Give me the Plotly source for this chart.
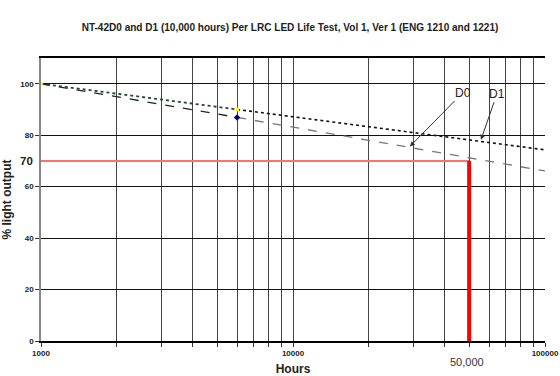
import numpy as np
import plotly.graph_objects as go

# ---- data ----
hours_measured = [1000, 6000]
d1_measured = [100, 90.0]
d0_measured = [100, 86.9]
hours_extrap = [6000, 100000]
d1_extrap = [90.0, 74.3]
d0_extrap = [86.9, 66.1]
l70_level = 70
l70_hours = 50000

grid_x = [1000, 2000, 3000, 4000, 5000, 6000, 7000, 8000, 9000,
          10000, 20000, 30000, 40000, 50000, 60000, 70000, 80000, 90000, 100000]
grid_x_text = ["1000"] + [""] * 8 + ["10000"] + [""] * 8 + ["100000"]
y_ticks = [0, 20, 40, 60, 80, 100]

FONT = "Liberation Sans, Arial, sans-serif"

fig = go.Figure()

# L70 lines
fig.add_trace(go.Scatter(x=[1000, l70_hours], y=[l70_level, l70_level], mode="lines",
                         line=dict(color="#ff7070", width=2), hoverinfo="skip"))
fig.add_trace(go.Scatter(x=[l70_hours, l70_hours], y=[0, l70_level], mode="lines",
                         line=dict(color="#ff0000", width=4), hoverinfo="skip"))

# extrapolations
fig.add_trace(go.Scatter(x=hours_extrap, y=d0_extrap, mode="lines",
                         line=dict(color="#777777", width=1.3, dash="dash")))
fig.add_trace(go.Scatter(x=hours_extrap, y=d1_extrap, mode="lines",
                         line=dict(color="#111111", width=1.6, dash="dot")))
# measured
fig.add_trace(go.Scatter(x=hours_measured, y=d0_measured, mode="lines",
                         line=dict(color="#222222", width=1.3, dash="dash")))
fig.add_trace(go.Scatter(x=hours_measured, y=d1_measured, mode="lines",
                         line=dict(color="#1f4a30", width=1.8, dash="dot")))
fig.add_trace(go.Scatter(x=hours_measured[1:], y=d0_measured[1:], mode="markers",
                         marker=dict(color="#000080", size=5, symbol="diamond")))
fig.add_trace(go.Scatter(x=hours_measured, y=d1_measured, mode="markers",
                         marker=dict(color="#ffff00", size=4)))

annotations = [
    dict(x=np.log10(29100), y=75.6, xref="x", yref="y", text="D0", showarrow=True,
         ax=53, ay=-54, arrowhead=2, arrowsize=1, arrowwidth=1, arrowcolor="#333333",
         font=dict(family=FONT, size=12, color="#222222")),
    dict(x=np.log10(55700), y=78.2, xref="x", yref="y", text="D1", showarrow=True,
         ax=16, ay=-46, arrowhead=2, arrowsize=1, arrowwidth=1, arrowcolor="#333333",
         font=dict(family=FONT, size=12, color="#222222")),
    dict(x=np.log10(l70_hours), y=-0.045, xref="x", yref="paper", text="50,000",
         showarrow=False, yanchor="top", xshift=-2,
         font=dict(family=FONT, size=11, color="#333344")),
    dict(x=-0.012, y=l70_level, xref="paper", yref="y", text="<b>70</b>",
         showarrow=False, xanchor="right",
         font=dict(family=FONT, size=11.5, color="#222222")),
]

fig.update_layout(
    width=560, height=376,
    margin=dict(l=41, r=15, t=58, b=35),
    paper_bgcolor="white", plot_bgcolor="white",
    showlegend=False,
    title=dict(text="<b>NT-42D0 and D1 (10,000 hours) Per LRC LED Life Test, Vol 1, Ver 1 (ENG 1210 and 1221)</b>",
               xref="container", x=290 / 560, xanchor="center", y=1 - 27 / 376, yanchor="middle",
               font=dict(family=FONT, size=10.05, color="#222222")),
    annotations=annotations,
    xaxis=dict(type="log", range=[3, 5], tickvals=grid_x,
               ticktext=["<b>%s</b>" % t if t else "" for t in grid_x_text],
               automargin=False,
               showgrid=True, gridcolor="#444444", gridwidth=1.2,
               ticks="outside", ticklen=4, tickcolor="#333333",
               tickfont=dict(family=FONT, size=8, color="#222222"),
               showline=True, linecolor="#000000", linewidth=1.5, mirror=True,
               zeroline=False,
               title=dict(text="<b>Hours</b>", standoff=10,
                          font=dict(family=FONT, size=12, color="#222222"))),
    yaxis=dict(range=[0, 110], tickvals=y_ticks,
               ticktext=["<b>%d</b>" % v for v in y_ticks],
               automargin=False,
               showgrid=True, gridcolor="#111111", gridwidth=1.2,
               ticks="outside", ticklen=4, tickcolor="#333333",
               tickfont=dict(family=FONT, size=8, color="#222222"),
               showline=True, linecolor="#888888", linewidth=1.5, mirror=False,
               zeroline=False,
               title=dict(text="<b>% light output</b>", standoff=8,
                          font=dict(family=FONT, size=12, color="#222222"))),
)

fig.write_html("out.html", config={"displayModeBar": False},
               post_script="document.body.style.margin='0';document.body.style.overflow='hidden';")
